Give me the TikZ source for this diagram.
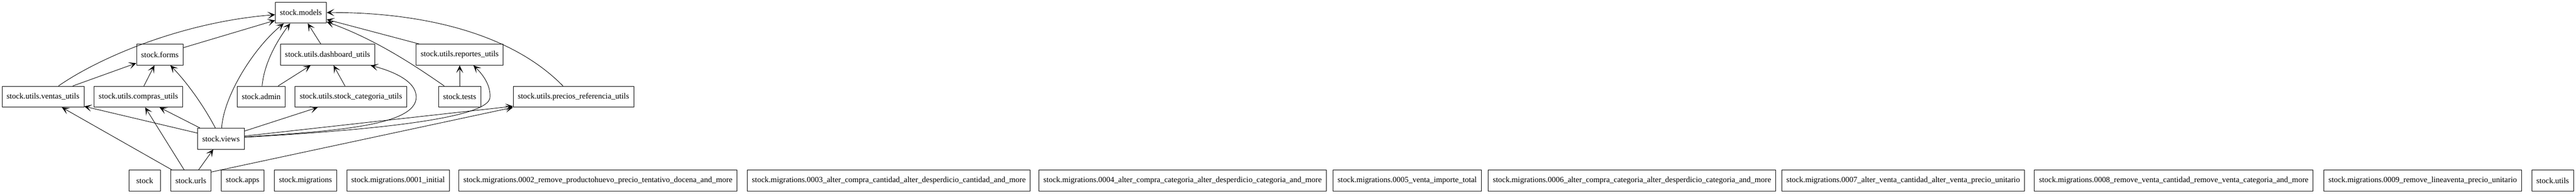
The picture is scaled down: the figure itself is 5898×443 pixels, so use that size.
\documentclass[tikz,border=0pt]{standalone}
\usepackage{fontspec}
\setmainfont{Liberation Serif}
\usetikzlibrary{arrows.meta}

\begin{document}
\begin{tikzpicture}[x=0.75pt,y=-0.75pt,
		modbox/.style={draw,line width=0.8pt,minimum height=36pt,minimum width=54pt,inner xsep=7.92pt,inner ysep=0pt,font=\fontsize{13.7}{17}\selectfont},
		dep/.style={->,line width=0.8pt},
		>={Stealth[length=13pt,width=12pt,inset=7pt]}]
		\useasboundingbox (0,0) rectangle (5898,443);
		\node[modbox] (models) at (689,29) {stock.models};
		\node[modbox] (forms) at (366,125) {stock.forms};
		\node[modbox] (dash) at (750,125) {stock.utils.dashboard\_utils};
		\node[modbox] (reportes) at (1052.5,125) {stock.utils.reportes\_utils};
		\node[modbox] (ventas) at (98.5,221) {stock.utils.ventas\_utils};
		\node[modbox] (compras) at (317,221) {stock.utils.compras\_utils};
		\node[modbox] (admin) at (598,221) {stock.admin};
		\node[modbox] (stockcat) at (803.5,221) {stock.utils.stock\_categoria\_utils};
		\node[modbox] (tests) at (1052.5,221) {stock.tests};
		\node[modbox] (precios) at (1313,221) {stock.utils.precios\_referencia\_utils};
		\node[modbox] (views) at (506,317) {stock.views};
		%
		\node[modbox] (stock) at (331.5,413) {stock};
		\node[modbox] (urls) at (437,413) {stock.urls};
		\node[modbox] (apps) at (555.5,413) {stock.apps};
		\node[modbox] (migr) at (699.5,413) {stock.migrations};
		\node[modbox] (migi) at (911.5,413) {stock.migrations.0001\_initial};
		\node[modbox] (migii) at (1369,413) {stock.migrations.0002\_remove\_productohuevo\_precio\_tentativo\_docena\_and\_more};
		\node[modbox] (migiii) at (2035,413) {stock.migrations.0003\_alter\_compra\_cantidad\_alter\_desperdicio\_cantidad\_and\_more};
		\node[modbox] (migiv) at (2707.5,413) {stock.migrations.0004\_alter\_compra\_categoria\_alter\_desperdicio\_categoria\_and\_more};
		\node[modbox] (migv) at (3222,413) {stock.migrations.0005\_venta\_importe\_total};
		\node[modbox] (migvi) at (3736.5,413) {stock.migrations.0006\_alter\_compra\_categoria\_alter\_desperdicio\_categoria\_and\_more};
		\node[modbox] (migvii) at (4357.5,413) {stock.migrations.0007\_alter\_venta\_cantidad\_alter\_venta\_precio\_unitario};
		\node[modbox] (migviii) at (4977,413) {stock.migrations.0008\_remove\_venta\_cantidad\_remove\_venta\_categoria\_and\_more};
		\node[modbox] (migix) at (5547,413) {stock.migrations.0009\_remove\_lineaventa\_precio\_unitario};
		\node[modbox] (utils) at (5844.5,413) {stock.utils};
		%
		\draw [dep] (ventas) .. controls (230,130) and (420,50) .. (models);
		\draw [dep] (ventas) -- (forms);
		\draw [dep] (compras) -- (forms);
		\draw [dep] (forms) -- (models);
		\draw [dep] (views) .. controls (460,230) and (420,180) .. (forms);
		\draw [dep] (views) -- (compras);
		\draw [dep] (views) -- (ventas);
		\draw [dep] (views) -- (stockcat);
		\draw [dep] (views) -- (precios.189);
		\draw [dep] (views) .. controls (512,220) and (580,110) .. (models.212);
		\draw [dep] (views) .. controls (750,300) and (955,290) .. (953,221) .. controls (952,185) and (900,163) .. (dash.-14);
		\draw [dep] (views) .. controls (800,300) and (1125,275) .. (1122,221) .. controls (1123,190) and (1100,165) .. (reportes.-38);
		\draw [dep] (urls) -- (ventas);
		\draw [dep] (urls) -- (compras);
		\draw [dep] (urls) -- (views);
		\draw [dep] (urls.23) -- (precios.south west);
		\draw [dep] (admin) .. controls (605,140) and (640,85) .. (models.225);
		\draw [dep] (admin) -- (dash);
		\draw [dep] (stockcat) -- (dash);
		\draw [dep] (dash) -- (models);
		\draw [dep] (reportes) -- (models);
		\draw [dep] (tests) -- (reportes);
		\draw [dep] (tests) .. controls (950,150) and (860,90) .. (models);
		\draw [dep] (precios) .. controls (1140,45) and (880,28) .. (models);
	\end{tikzpicture}
\end{document}
